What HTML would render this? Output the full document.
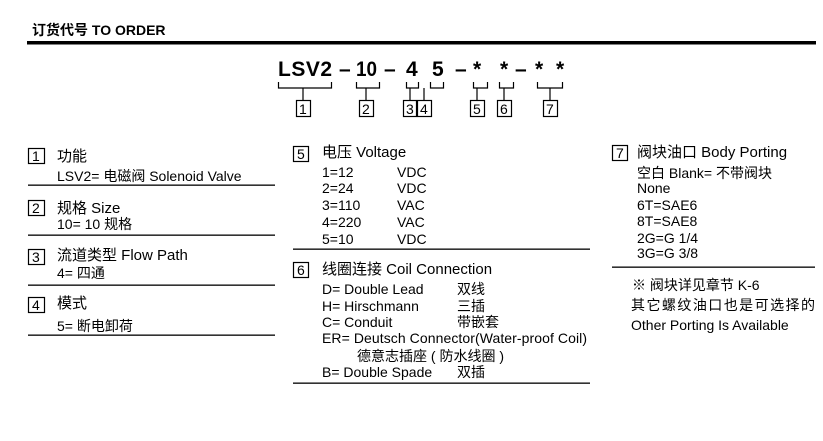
<!DOCTYPE html>
<html><head><meta charset="utf-8"><style>
html,body{margin:0;padding:0;background:#fff;}
svg{display:block;}
text{font-family:"Liberation Sans","Noto Sans CJK SC",sans-serif;fill:#000;}
.t{font-size:15px;}
.s{font-size:14px;}
.c{font-size:21px;font-weight:bold;}
.n{font-size:14px;}
</style></head><body>
<svg width="823" height="441" viewBox="0 0 823 441" xmlns="http://www.w3.org/2000/svg">
<text x="32" y="35" style="font-size:14px;font-weight:bold">订货代号 TO ORDER</text>
<rect x="27" y="41" width="789" height="3.5" fill="#000"/>

<text x="278" y="76" class="c" textLength="54">LSV2</text>
<text x="339" y="76" class="c">–</text>
<text x="356" y="76" class="c" textLength="21" lengthAdjust="spacingAndGlyphs">10</text>
<text x="384" y="76" class="c">–</text>
<text x="406" y="76" class="c">4</text>
<text x="432" y="76" class="c">5</text>
<text x="455" y="76" class="c">–</text>
<text x="473" y="76" class="c">*</text>
<text x="500" y="76" class="c">*</text>
<text x="515" y="76" class="c">–</text>
<text x="535" y="76" class="c">*</text>
<text x="556" y="76" class="c">*</text>
<g stroke="#000" stroke-width="1.2" fill="none">
<path d="M278.5 82V88H331.5V82M303 88V100"/>
<path d="M356.5 82V88H379.5V82M366 88V100"/>
<path d="M406.5 82V88H418.5V82M410 88V100"/>
<path d="M430.5 82V88H443.5V82M424 88V100"/>
<path d="M473.5 82V88H487.5V82M477 88V100"/>
<path d="M499.5 82V88H513.5V82M504 88V100"/>
<path d="M537.5 82V88H562.5V82M550 88V100"/>
<rect x="296.5" y="100.5" width="14" height="16"/>
<rect x="359.5" y="100.5" width="14" height="16"/>
<rect x="403.5" y="100.5" width="13" height="16"/>
<rect x="417.5" y="100.5" width="14" height="16"/>
<rect x="470.5" y="100.5" width="14" height="16"/>
<rect x="497.5" y="100.5" width="14" height="16"/>
<rect x="543.5" y="100.5" width="14" height="16"/>
</g>
<text x="299" y="114" class="n">1</text>
<text x="362" y="114" class="n">2</text>
<text x="406" y="114" class="n">3</text>
<text x="420" y="114" class="n">4</text>
<text x="473" y="114" class="n">5</text>
<text x="500" y="114" class="n">6</text>
<text x="546" y="114" class="n">7</text>

<g stroke="#000" stroke-width="1.2" fill="none">
<rect x="28.5" y="148.5" width="16" height="15"/>
<rect x="28.5" y="200.5" width="16" height="15"/>
<rect x="28.5" y="249.5" width="16" height="15"/>
<rect x="28.5" y="297.5" width="16" height="15"/>
<rect x="293.5" y="146.5" width="15" height="15"/>
<rect x="293.5" y="262.5" width="15" height="15"/>
<rect x="612.5" y="145.5" width="15" height="15"/>
</g>
<g fill="#000">
<rect x="28" y="184.5" width="247" height="1.3"/>
<rect x="28" y="234.5" width="247" height="1.3"/>
<rect x="28" y="284.5" width="247" height="1.3"/>
<rect x="28" y="334.5" width="247" height="1.3"/>
<rect x="293" y="248.5" width="297" height="1.3"/>
<rect x="293" y="382.5" width="297" height="1.3"/>
<rect x="612" y="266.5" width="203" height="1.3"/>
</g>

<text x="32" y="161" class="n">1</text>
<text x="32" y="213" class="n">2</text>
<text x="32" y="262" class="n">3</text>
<text x="32" y="310" class="n">4</text>
<text x="297" y="159" class="n">5</text>
<text x="297" y="275" class="n">6</text>
<text x="616" y="158" class="n">7</text>

<text x="57" y="161" class="t">功能</text>
<text x="57" y="181" class="s">LSV2= 电磁阀 Solenoid Valve</text>
<text x="57" y="213" class="t">规格 Size</text>
<text x="57" y="229" class="s">10= 10 规格</text>
<text x="57" y="260" class="t">流道类型 Flow Path</text>
<text x="57" y="278" class="s">4= 四通</text>
<text x="57" y="308" class="t">模式</text>
<text x="57" y="331" class="s">5= 断电卸荷</text>

<text x="322" y="157" class="t">电压 Voltage</text>
<text x="322" y="177" class="s">1=12</text><text x="397" y="177" class="s">VDC</text>
<text x="322" y="193" class="s">2=24</text><text x="397" y="193" class="s">VDC</text>
<text x="322" y="210" class="s">3=110</text><text x="397" y="210" class="s">VAC</text>
<text x="322" y="227" class="s">4=220</text><text x="397" y="227" class="s">VAC</text>
<text x="322" y="244" class="s">5=10</text><text x="397" y="244" class="s">VDC</text>
<text x="322" y="274" class="t">线圈连接 Coil Connection</text>
<text x="322" y="294" class="s">D= Double Lead</text><text x="457" y="294" class="s">双线</text>
<text x="322" y="311" class="s">H= Hirschmann</text><text x="457" y="311" class="s">三插</text>
<text x="322" y="327" class="s">C= Conduit</text><text x="457" y="327" class="s">带嵌套</text>
<text x="322" y="343" class="s" textLength="265">ER= Deutsch Connector(Water-proof Coil)</text>
<text x="357" y="361" class="s">德意志插座 ( 防水线圈 )</text>
<text x="322" y="377" class="s">B= Double Spade</text><text x="457" y="377" class="s">双插</text>

<text x="637" y="157" class="t">阀块油口 Body Porting</text>
<text x="637" y="178" class="s">空白 Blank= 不带阀块</text>
<text x="637" y="193" class="s">None</text>
<text x="637" y="210" class="s">6T=SAE6</text>
<text x="637" y="226" class="s">8T=SAE8</text>
<text x="637" y="243" class="s">2G=G 1/4</text>
<text x="637" y="258" class="s">3G=G 3/8</text>
<text x="632" y="290" class="s">※ 阀块详见章节 K-6</text>
<text x="631" y="310" class="s" textLength="184">其它螺纹油口也是可选择的</text>
<text x="631" y="330" class="s">Other Porting Is Available</text>
</svg>
</body></html>
